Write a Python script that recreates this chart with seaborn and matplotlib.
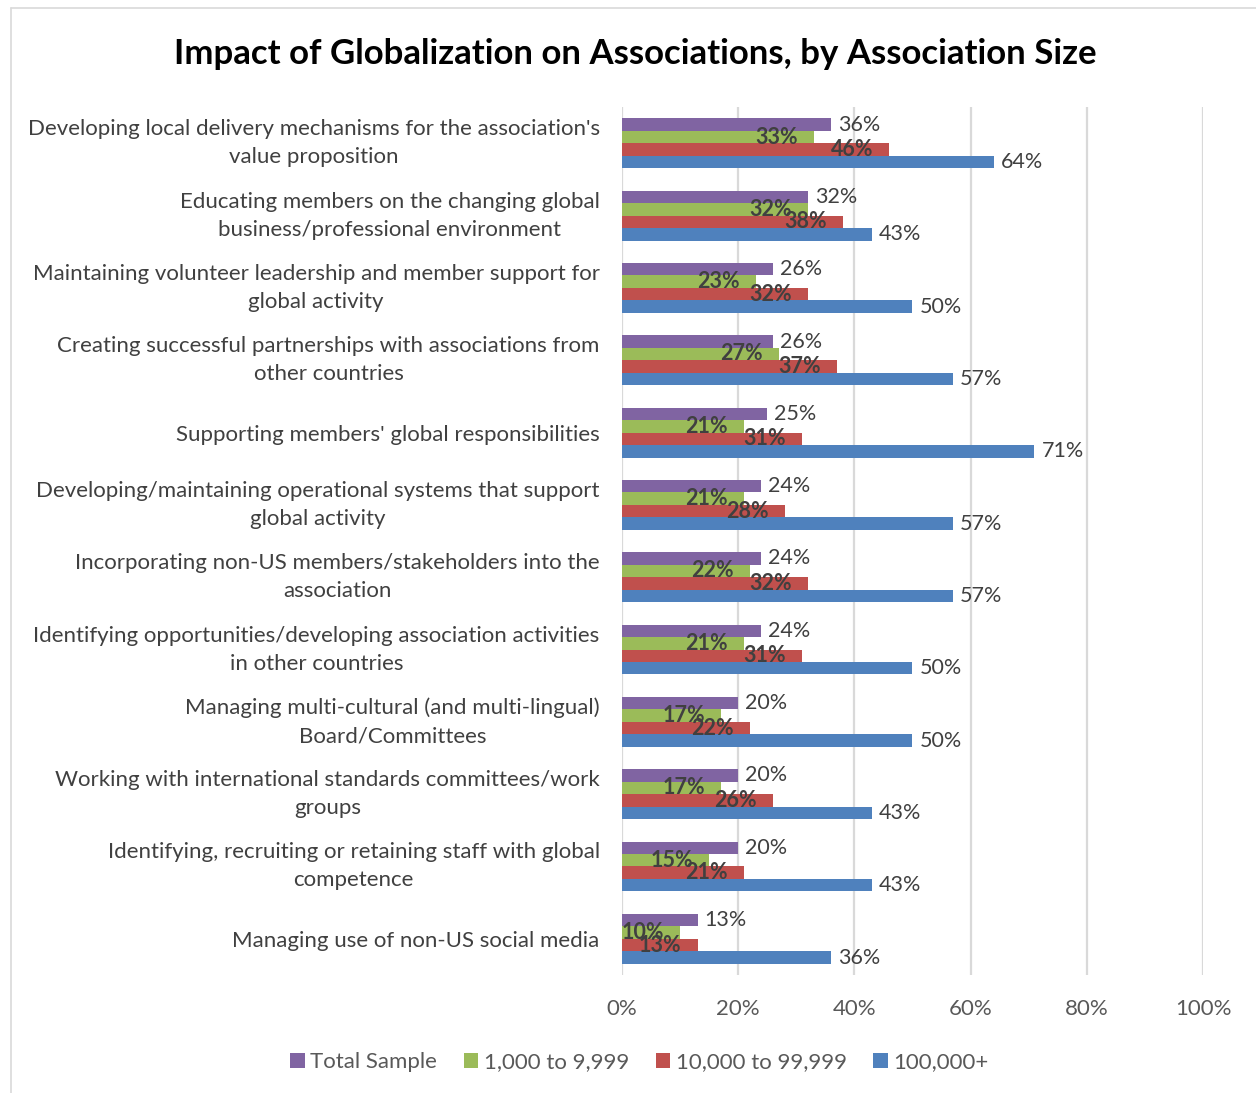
import matplotlib
matplotlib.use("Agg")
import matplotlib.pyplot as plt
from matplotlib.lines import Line2D
from matplotlib.patches import Patch
import seaborn as sns
import pandas as pd

categories = [
    "Developing local delivery mechanisms for the association's\nvalue proposition",
    "Educating members on the changing global\nbusiness/professional environment",
    "Maintaining volunteer leadership and member support for\nglobal activity",
    "Creating successful partnerships with associations from\nother countries",
    "Supporting members' global responsibilities",
    "Developing/maintaining operational systems that support\nglobal activity",
    "Incorporating non-US members/stakeholders into the\nassociation",
    "Identifying opportunities/developing association activities\nin other countries",
    "Managing multi-cultural (and multi-lingual)\nBoard/Committees",
    "Working with international standards committees/work\ngroups",
    "Identifying, recruiting or retaining staff with global\ncompetence",
    "Managing use of non-US social media",
]
series_names = ["Total Sample", "1,000 to 9,999", "10,000 to 99,999", "100,000+"]
total_sample = [36, 32, 26, 26, 25, 24, 24, 24, 20, 20, 20, 13]
small_assoc = [33, 32, 23, 27, 21, 21, 22, 21, 17, 17, 15, 10]
medium_assoc = [46, 38, 32, 37, 31, 28, 32, 31, 22, 26, 21, 13]
large_assoc = [64, 43, 50, 57, 71, 57, 57, 50, 50, 43, 43, 36]
x_ticks = [0, 20, 40, 60, 80, 100]

colors = ["#8064A2", "#9BBB59", "#C0504D", "#4F81BD"]

rows = []
for name, vals in zip(series_names, [total_sample, small_assoc, medium_assoc, large_assoc]):
    for c, v in zip(categories, vals):
        rows.append({"Category": c, "Series": name, "Value": v})
df = pd.DataFrame(rows)

sns.set_theme(style="white")
plt.rcParams["font.family"] = ["Lato", "DejaVu Sans"]

fig = plt.figure(figsize=(12.56, 10.93), dpi=100)
ax = fig.add_axes([0.4952, 0.108, 0.4626, 0.794])

sns.barplot(data=df, y="Category", x="Value", hue="Series", order=categories,
            hue_order=series_names, palette=colors, orient="h", width=0.69,
            gap=0, linewidth=0, saturation=1, ax=ax, legend=False, errorbar=None)

ax.set_xlim(0, 100)
ax.set_xticks(x_ticks)
ax.set_xticklabels([f"{t}%" for t in x_ticks], fontsize=16, color="#595959")
ax.tick_params(axis="x", length=0, pad=17)
ax.tick_params(axis="y", length=0, pad=16)
ax.set_yticks(range(len(categories)))
ax.set_yticklabels(categories, fontsize=16, color="#404040", linespacing=1.5)
for lab in ax.get_yticklabels():
    lab.set_horizontalalignment("right")
    lab.set_multialignment("center")
    if "\n" in lab.get_text():
        lab.set_verticalalignment("center")
ax.set_xlabel("")
ax.set_ylabel("")
for s in ax.spines.values():
    s.set_visible(False)
ax.xaxis.grid(True, color="#D9D9D9", linewidth=1.6)
ax.set_axisbelow(True)

# value labels
for i, cont in enumerate(ax.containers):
    for patch in cont.patches:
        w = patch.get_width()
        yc = patch.get_y() + patch.get_height() / 2
        txt = f"{w:.0f}%"
        if i in (0, 3):
            ax.annotate(txt, (w, yc), xytext=(5, 0), textcoords="offset points",
                        ha="left", va="center", fontsize=15.5, color="#404040")
        else:
            ax.annotate(txt, (w, yc), xytext=(-11.5, 0), textcoords="offset points",
                        ha="right", va="center", fontsize=15.5, color="#404040",
                        fontweight="bold")

fig.text(0.506, 0.951, "Impact of Globalization on Associations, by Association Size",
         ha="center", va="center", fontsize=25, fontweight="bold", color="black")

handles = [Patch(facecolor=c, edgecolor="none") for c in colors]
fig.legend(handles, series_names, loc="center", bbox_to_anchor=(0.509, 0.028), ncol=4,
           frameon=False, fontsize=16, handlelength=0.65, handleheight=0.65,
           handletextpad=0.25, columnspacing=1.2, labelcolor="#595959")

# chart border
fig.add_artist(Line2D([11 / 1256, 1.0], [1 - 8 / 1093, 1 - 8 / 1093], color="#D9D9D9", lw=1.2))
fig.add_artist(Line2D([11 / 1256, 11 / 1256], [0, 1 - 8 / 1093], color="#D9D9D9", lw=1.2))

fig.savefig("out.png", dpi=100)
